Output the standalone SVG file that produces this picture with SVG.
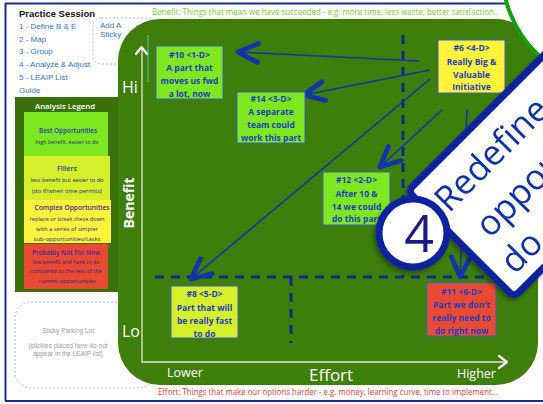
<svg xmlns="http://www.w3.org/2000/svg" width="543" height="404" viewBox="0 0 543 404">
<defs>
<style>
.menu{font-family:"Liberation Sans",Arial,sans-serif;font-size:8px;fill:#3470d8}
.st{font-family:"Open Sans","Liberation Sans",sans-serif;font-size:8.5px;font-weight:700;fill:#1e3cc0;text-anchor:middle}
.sbox{stroke:#3f5fc0;stroke-width:1}
.lh{font-family:"Open Sans","Liberation Sans",sans-serif;font-size:7px;font-weight:600;text-anchor:middle}
.lt{font-family:"Open Sans","Liberation Sans",sans-serif;font-size:5.8px;fill:#1a2a80;text-anchor:middle}
.ax{font-family:"Open Sans","Liberation Sans",sans-serif;fill:#ffffff}
.dash{fill:none;stroke:#0c2a86;stroke-width:3;stroke-dasharray:9 7}
.conn{fill:none;stroke:#1236aa;stroke-width:1.6}
.bn{font-family:"Open Sans","Liberation Sans",sans-serif;font-size:35px;fill:#1030a8}
.park{font-family:"Liberation Sans",Arial,sans-serif;font-size:6.5px;fill:#9a9a9a;text-anchor:middle}
.cap{font-family:"Open Sans","Liberation Sans",sans-serif;font-size:9px}
</style>
<marker id="ah" markerUnits="userSpaceOnUse" markerWidth="34" markerHeight="34" viewBox="-27 -17 34 34" refX="0" refY="0" orient="auto" overflow="visible">
<path d="M-20,-9.5 L0,0 L-20,9.5" fill="none" stroke="#1236aa" stroke-width="4.8" stroke-linecap="round" stroke-linejoin="round"/>
</marker>
<filter id="sh" x="-20%" y="-20%" width="140%" height="140%">
<feDropShadow dx="-2" dy="3" stdDeviation="2" flood-color="#000" flood-opacity="0.35"/>
</filter>
</defs>

<rect x="0" y="0" width="543" height="404" fill="#ffffff"/>

<!-- frame -->
<g id="frame" fill="none">
<line x1="5" y1="3.5" x2="543" y2="3.5" stroke="#1b2a9a" stroke-width="2"/>
<line x1="5.5" y1="3" x2="5.5" y2="401" stroke="#1b2a9a" stroke-width="2"/>
<line x1="5" y1="401" x2="543" y2="401" stroke="#1b2a9a" stroke-width="2"/>
</g>

<!-- menu -->
<g id="menu">
<text x="19" y="17" font-family="Liberation Sans, Arial, sans-serif" font-size="9.5" font-weight="700" fill="#111">Practice Session</text>
<text class="menu" x="19" y="29">1 - Define B &amp; E</text>
<text class="menu" x="19" y="42">2 - Map</text>
<text class="menu" x="19" y="54">3 - Group</text>
<text class="menu" x="19" y="67">4 - Analyze &amp; Adjust</text>
<text class="menu" x="19" y="80">5 - LEAIP List</text>
<text class="menu" x="19" y="93">Guide</text>
</g>

<g id="add-sticky">
<rect x="93" y="18" width="62" height="46" rx="8" fill="none" stroke="#a8c8a0" stroke-width="1" stroke-dasharray="2 2"/>
<text class="menu" x="100" y="28">Add A</text>
<text class="menu" x="100" y="37">Sticky</text>
</g>

<!-- legend -->
<g id="legend">
<rect x="15" y="97" width="103" height="195" fill="#3b710a"/>
<text class="lh" x="65" y="109" fill="#ffffff" textLength="60" lengthAdjust="spacingAndGlyphs">Analysis Legend</text>
<rect x="24" y="112" width="84" height="44" fill="#7de81f"/>
<text class="lh" x="68" y="133" fill="#1a3caa" textLength="58" lengthAdjust="spacingAndGlyphs">Best Opportunities</text>
<text class="lt" x="67" y="144" textLength="63" lengthAdjust="spacingAndGlyphs">high benefit, easier to do</text>
<rect x="24" y="156" width="86" height="44" fill="#d6ef2b"/>
<text class="lh" x="67" y="171" fill="#2a3a9a">Fillers</text>
<text class="lt" x="67" y="182" textLength="73" lengthAdjust="spacingAndGlyphs">less benefit but easier to do</text>
<text class="lt" x="67" y="193" textLength="70" lengthAdjust="spacingAndGlyphs">(do if/when time permits)</text>
<rect x="24" y="200" width="87" height="43" fill="#fff23b"/>
<text class="lh" x="72" y="210" fill="#3a2a8a" textLength="75" lengthAdjust="spacingAndGlyphs">Complex Opportunities</text>
<text class="lt" x="67" y="221" textLength="75" lengthAdjust="spacingAndGlyphs">replace or break these down</text>
<text class="lt" x="67" y="231" textLength="62" lengthAdjust="spacingAndGlyphs">with a series of simpler</text>
<text class="lt" x="67" y="241" textLength="67" lengthAdjust="spacingAndGlyphs">sub-opportunities/tasks</text>
<rect x="24" y="244" width="84" height="45" fill="#ea4a32"/>
<text class="lh" x="66" y="255" fill="#3a2aa0" textLength="68" lengthAdjust="spacingAndGlyphs">Probably Not For Now</text>
<text class="lt" x="66" y="264" textLength="67" lengthAdjust="spacingAndGlyphs">low benefit and hard to do</text>
<text class="lt" x="66" y="273" textLength="72" lengthAdjust="spacingAndGlyphs">compared to the rest of the</text>
<text class="lt" x="67" y="283" textLength="57" lengthAdjust="spacingAndGlyphs">current opportunities</text>
</g>

<!-- parking lot -->
<g id="parking-lot">
<rect x="15" y="302" width="140" height="86" rx="16" fill="none" stroke="#a8c8a0" stroke-width="1" stroke-dasharray="2 2"/>
<text class="park" x="68" y="333">Sticky Parking Lot</text>
<text class="park" x="68" y="348">(stickies placed here do not</text>
<text class="park" x="68" y="356">appear in the LEAIP list)</text>
</g>

<!-- chart background -->
<rect id="chart" x="118" y="19" width="420" height="366" rx="42" fill="#3e7e0b"/>
<circle cx="620" cy="-30" r="118" fill="#ffffff" stroke="#12a012" stroke-width="4"/>

<!-- captions -->
<text class="cap" x="152" y="15" fill="#78c83a" textLength="346" lengthAdjust="spacingAndGlyphs">Benefit: Things that mean we have succeeded - e.g. more time, less waste, better satisfaction..</text>
<text class="cap" x="158" y="395" fill="#e83a3a" textLength="340" lengthAdjust="spacingAndGlyphs">Effort: Things that make our options harder - e.g. money, learning curve, time to implement...</text>

<!-- axes -->
<g id="axes">
<line x1="148" y1="35" x2="148" y2="82" stroke="#5ac0c0" stroke-width="1"/>
<path d="M142,49 V362 H507" fill="none" stroke="#e2e8d6" stroke-width="1.3"/>
<path d="M136,54 L141.5,47 L147,54" fill="none" stroke="#ffffff" stroke-width="2.2" stroke-linecap="round" stroke-linejoin="round"/>
<path d="M499,356 L507,362 L499,368" fill="none" stroke="#ffffff" stroke-width="2.2" stroke-linecap="round" stroke-linejoin="round"/>
<text class="ax" x="122" y="93" font-size="16">Hi</text>
<text class="ax" x="122" y="337" font-size="16">Lo</text>
<text class="ax" transform="translate(134,203) rotate(-90)" font-size="14" font-weight="700" text-anchor="middle">Benefit</text>
<text class="ax" x="167" y="377" font-size="12.5">Lower</text>
<text class="ax" x="309" y="381" font-size="17">Effort</text>
<text class="ax" x="457" y="378" font-size="12.5">Higher</text>
</g>

<!-- quadrant dividers -->
<g id="dividers">
<path class="dash" d="M155,277 H532"/>
<path class="dash" d="M403,35 V277"/>
<path class="dash" d="M291,277 V343"/>
</g>

<!-- connectors -->
<g id="connectors">
<path class="conn" d="M419,61 L238,52" marker-end="url(#ah)"/>
<path class="conn" d="M430,70 L304,95" marker-end="url(#ah)"/>
<path class="conn" d="M430,79 L191,279" marker-end="url(#ah)"/>
<path class="conn" d="M442,110 L380,167" marker-end="url(#ah)"/>
<path class="conn" d="M467,110 L460,277" marker-end="url(#ah)"/>
</g>

<!-- stickies -->
<g id="s10">
<rect class="sbox" x="156" y="46" width="67" height="53" fill="#7de81f"/>
<text class="st" x="189.5" y="58">#10 &lt;1-D&gt;</text>
<text class="st" x="189.5" y="71">A part that</text>
<text class="st" x="189.5" y="84">moves us fwd</text>
<text class="st" x="189.5" y="97">a lot, now</text>
</g>
<g id="s14">
<rect class="sbox" x="237" y="92" width="68" height="51" fill="#7de81f"/>
<text class="st" x="271" y="102">#14 &lt;3-D&gt;</text>
<text class="st" x="271" y="115">A separate</text>
<text class="st" x="271" y="128">team could</text>
<text class="st" x="271" y="141">work this part</text>
</g>
<g id="s12">
<rect class="sbox" x="323" y="172" width="67" height="53" fill="#7de81f"/>
<text class="st" x="356.5" y="183">#12 &lt;2-D&gt;</text>
<text class="st" x="356.5" y="197">After 10 &amp;</text>
<text class="st" x="356.5" y="210">14 we could</text>
<text class="st" x="356.5" y="222">do this part</text>
</g>
<g id="s6">
<rect class="sbox" x="438" y="40" width="67" height="53" fill="#fff33b"/>
<text class="st" x="471.5" y="51">#6 &lt;4-D&gt;</text>
<text class="st" x="471.5" y="65">Really Big &amp;</text>
<text class="st" x="471.5" y="78">Valuable</text>
<text class="st" x="471.5" y="90">Initiative</text>
</g>
<g id="s8">
<rect class="sbox" x="171" y="286" width="67" height="52" fill="#d6ef2b"/>
<text class="st" x="204.5" y="297">#8 &lt;5-D&gt;</text>
<text class="st" x="204.5" y="311">Part that will</text>
<text class="st" x="204.5" y="324">be really fast</text>
<text class="st" x="204.5" y="337">to do</text>
</g>
<g id="s11">
<rect class="sbox" x="427" y="283" width="69" height="53" fill="#ea4a32"/>
<text class="st" x="461.5" y="295">#11 &lt;6-D&gt;</text>
<text class="st" x="461.5" y="308">Part we don't</text>
<text class="st" x="461.5" y="321">really need to</text>
<text class="st" x="461.5" y="334">do right now</text>
</g>

<!-- step banner -->
<g id="banner" filter="url(#sh)">
<g transform="translate(408,191) rotate(-45)">
<rect x="0" y="0" width="320" height="150" rx="6" fill="#ffffff" stroke="#10249e" stroke-width="7"/>
<text class="bn" x="13" y="45">Redefine</text>
<text class="bn" x="24" y="92">oppor</text>
<text class="bn" x="16" y="135">do</text>
</g>
<circle cx="413" cy="233" r="34" fill="#ffffff" stroke="#10249e" stroke-width="7"/>
<text x="419" y="252" font-family="Open Sans, Liberation Sans, sans-serif" font-size="52" fill="#141a80" text-anchor="middle">4</text>
</g>
</svg>
